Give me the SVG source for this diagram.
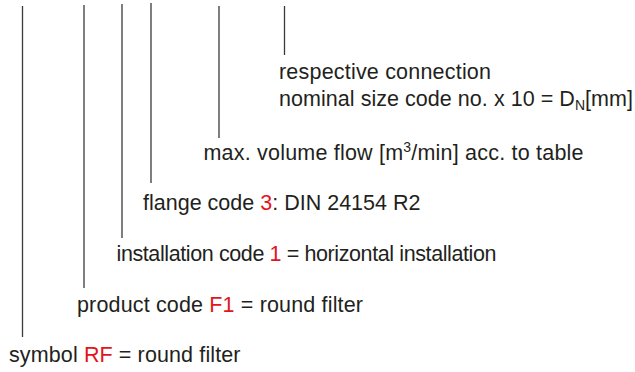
<svg xmlns="http://www.w3.org/2000/svg" width="635" height="372" viewBox="0 0 635 372">
<style>
.t{font-family:"Liberation Sans",Arial,Helvetica,sans-serif;font-size:21.5px;fill:#231f20}
.r{fill:#e3141b}
.ln{stroke:#3a3a3a;stroke-width:1.3;fill:none}
</style>
<rect width="635" height="372" fill="#ffffff"/>
<g id="connectors">
<line class="ln" x1="22.5" y1="6" x2="22.5" y2="337"/>
<line class="ln" x1="84" y1="5" x2="84" y2="288"/>
<line class="ln" x1="122" y1="4" x2="122" y2="238"/>
<line class="ln" x1="151" y1="3" x2="151" y2="183"/>
<line class="ln" x1="219" y1="6" x2="219" y2="138"/>
<line class="ln" x1="284.5" y1="6" x2="284.5" y2="55"/>
</g>
<g id="node-connection">
<text class="t" x="279" y="79" textLength="212" lengthAdjust="spacing">respective connection</text>
<text class="t" x="279" y="106" textLength="354" lengthAdjust="spacing">nominal size code no. x 10 = D<tspan font-size="14" dy="4">N</tspan><tspan dy="-4">[mm]</tspan></text>
</g>
<g id="node-flow">
<text class="t" x="203.5" y="160" textLength="380" lengthAdjust="spacing">max. volume flow [m<tspan font-size="14" dy="-8">3</tspan><tspan dy="8">/min] acc. to table</tspan></text>
</g>
<g id="node-flange">
<text class="t" x="143" y="210" textLength="277.5" lengthAdjust="spacing">flange code <tspan class="r">3</tspan>: DIN 24154 R2</text>
</g>
<g id="node-installation">
<text class="t" x="116.5" y="261" textLength="380" lengthAdjust="spacing">installation code <tspan class="r">1</tspan> = horizontal installation</text>
</g>
<g id="node-product">
<text class="t" x="77" y="312" textLength="286" lengthAdjust="spacing">product code <tspan class="r">F1</tspan> = round filter</text>
</g>
<g id="node-symbol">
<text class="t" x="9" y="362" textLength="231.5" lengthAdjust="spacing">symbol <tspan class="r">RF</tspan> = round filter</text>
</g>
</svg>
